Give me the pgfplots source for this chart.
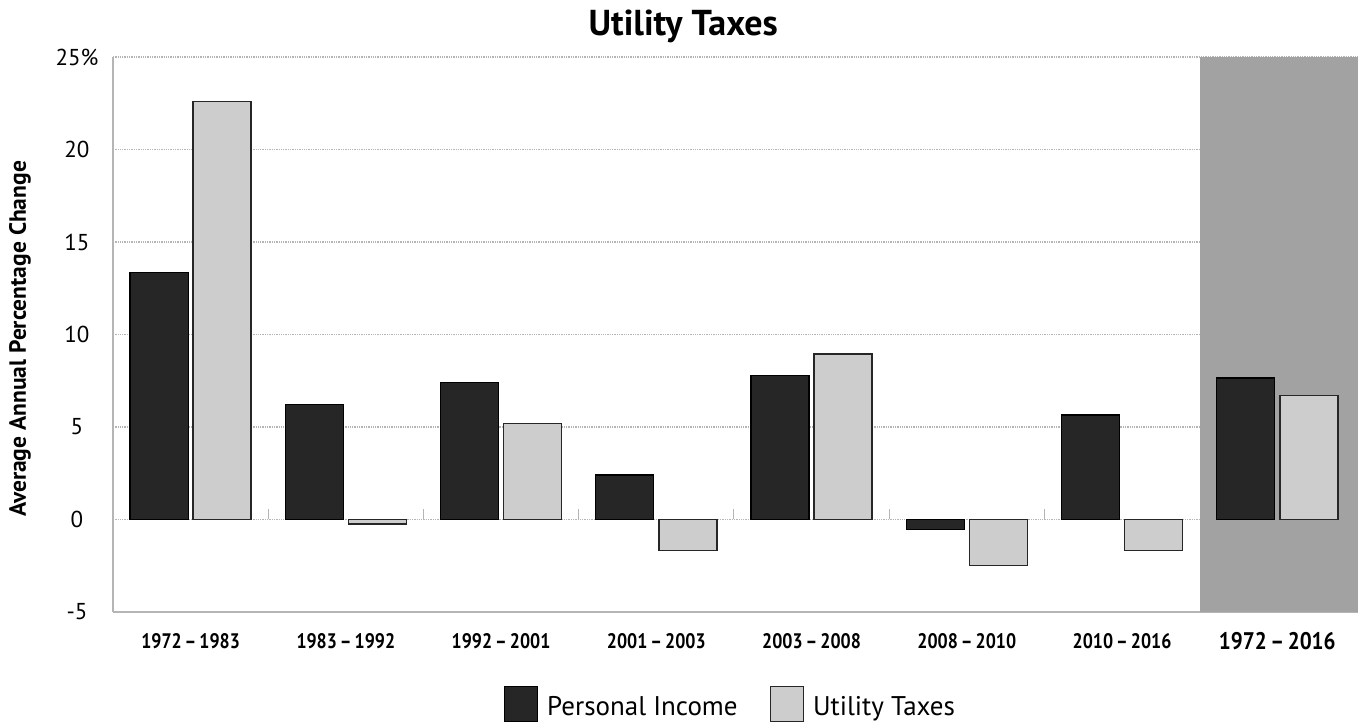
\documentclass[border=0pt]{standalone}
\usepackage{fontspec}
\setmainfont{PT Sans}
\usepackage{graphicx}
\usepackage{pgfplots}
\pgfplotsset{compat=1.18}
\definecolor{pidark}{HTML}{262626}
\definecolor{utlight}{HTML}{CDCDCD}
\definecolor{shadegray}{HTML}{A2A2A2}
\definecolor{gridc}{HTML}{B5B5B5}
\newcommand{\xl}[1]{\scalebox{0.85}[1]{\fontsize{21pt}{21pt}\selectfont\bfseries #1}}
\begin{document}
\begin{tikzpicture}
\begin{axis}[
  scale only axis,
  width=1245pt, height=555pt,
  xmin=-0.5, xmax=7.52,
  ymin=-5, ymax=25,
  ybar,
  bar width=0.374,
  /pgf/number format/assume math mode=true,
  ytick={-5,0,5,10,15,20,25},
  yticklabels={-5,0,5,10,15,20,25\%},
  yticklabel style={anchor=center, xshift=-36pt, font=\fontsize{23pt}{23pt}\selectfont},
  xtick={0,1,2,3,4,5,6,7},
  xticklabels={\xl{1972\,–\,1983},\xl{1983\,–\,1992},\xl{1992\,–\,2001},\xl{2001\,–\,2003},\xl{2003\,–\,2008},\xl{2008\,–\,2010},\xl{2010\,–\,2016},{\scalebox{0.88}[1]{\fontsize{24pt}{24pt}\selectfont\bfseries 1972\,–\,2016}}},
  xticklabel style={anchor=center, yshift=-29pt},
  major tick length=0pt,
  ymajorgrids,
  grid style={gridc, line width=1.3pt, densely dotted},
  axis line style={gridc, line width=1.3pt},
  axis x line*=bottom,
  axis y line*=left,
  title={Utility Taxes},
  title style={at={(axis description cs:0.458,1)}, anchor=center, yshift=25pt, font=\fontsize{36pt}{36pt}\selectfont\bfseries},
  ylabel={Average Annual Percentage Change},
  ylabel style={at={(axis description cs:-0.0747,0.492)}, anchor=center, font=\fontsize{23.5pt}{23.5pt}\selectfont\bfseries},
  legend columns=2,
  legend style={at={(axis description cs:0.496,-0.166)}, anchor=center, draw=none, fill=none,
    font=\fontsize{27pt}{27pt}\selectfont,
    /tikz/every odd column/.append style={column sep=7pt},
    /tikz/every even column/.append style={column sep=30pt}},
  legend image code/.code={\draw[#1] (0pt,-15pt) rectangle (33pt,20pt);},
]
\fill[shadegray] (axis cs:6.5,-5) rectangle (axis cs:7.52,25);
\draw[gridc, line width=1.3pt, densely dotted] (axis cs:-0.5,25) -- (axis cs:6.5,25);
\pgfplotsinvokeforeach{0.5,1.5,2.5,3.5,4.5,5.5}{
  \draw[gridc, line width=1pt] (axis cs:#1,0) -- (axis cs:#1,0.55);
}
\addplot[bar shift=0pt, fill=pidark, draw=black, line width=1.2pt] coordinates {
  (-0.203,13.35) (0.797,6.2) (1.797,7.4) (2.797,2.4) (3.797,7.8) (4.797,-0.55) (5.797,5.65) (6.797,7.65)
};
\addlegendentry{Personal Income}
\addplot[bar shift=0pt, fill=utlight, draw=black!85, line width=1.5pt] coordinates {
  (0.203,22.6) (1.203,-0.25) (2.203,5.2) (3.203,-1.67) (4.203,8.95) (5.203,-2.5) (6.203,-1.67) (7.203,6.7)
};
\addlegendentry{Utility Taxes}
\end{axis}
\path ([xshift=-113pt,yshift=-110pt]current axis.south west) rectangle ([xshift=8pt,yshift=57pt]current axis.north east);
\end{tikzpicture}
\end{document}
